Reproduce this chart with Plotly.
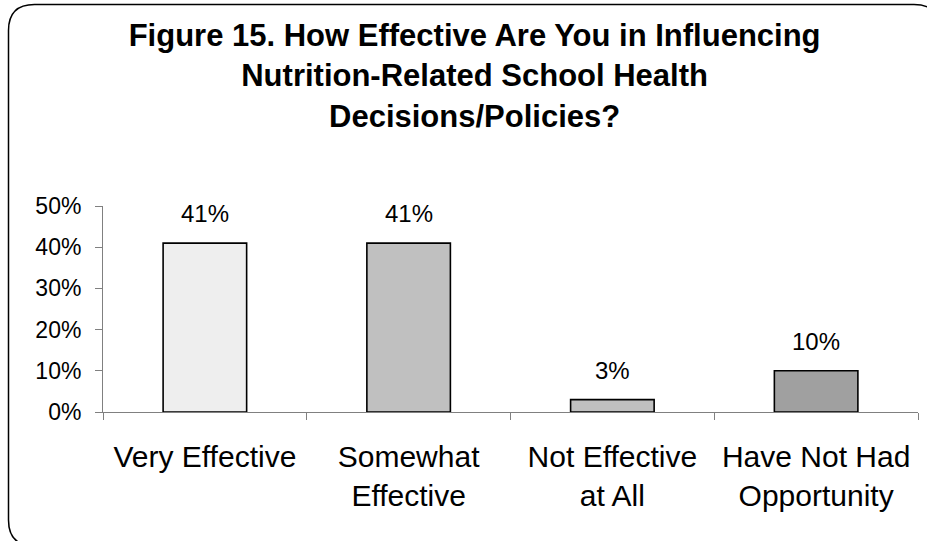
import plotly.graph_objects as go

categories = ["Very Effective", "Somewhat<br>Effective", "Not Effective<br>at All", "Have Not Had<br>Opportunity"]
values = [41, 41, 3, 10]
value_labels = ["41%", "41%", "3%", "10%"]
bar_colors = ["#eeeeee", "#c0c0c0", "#c0c0c0", "#a0a0a0"]
y_tick_vals = [0, 10, 20, 30, 40, 50]
y_tick_text = ["0%", "10%", "20%", "30%", "40%", "50%"]
title_text = ("Figure 15. How Effective Are You in Influencing<br>"
              "Nutrition-Related School Health<br>Decisions/Policies?")

W, H = 927, 541
ML, MR, MT, MB = 103, 9, 206, 129
FONT = "Liberation Sans, Arial, sans-serif"

fig = go.Figure()
fig.add_trace(go.Bar(
    x=categories, y=values, width=0.41,
    marker=dict(color=bar_colors, line=dict(color="black", width=1.6)),
    hoverinfo="skip",
))

annotations = []
for c, v, t in zip(categories, values, value_labels):
    annotations.append(dict(x=c, y=v, xref="x", yref="y", text=t, showarrow=False,
                            yanchor="bottom", yshift=14,
                            font=dict(family=FONT, size=24, color="black")))

# rounded border (pixel -> paper conversion)
pw, ph = W - ML - MR, H - MT - MB
def px(x):
    return (x - ML) / pw
def py(y):
    return (H - MB - y) / ph

L, T, R, B, r = 8.5, 4.5, 940, 546, 26
path = (f"M {px(L+r)},{py(T)} L {px(R-r)},{py(T)} Q {px(R)},{py(T)} {px(R)},{py(T+r)} "
        f"L {px(R)},{py(B-r)} Q {px(R)},{py(B)} {px(R-r)},{py(B)} "
        f"L {px(L+r)},{py(B)} Q {px(L)},{py(B)} {px(L)},{py(B-r)} "
        f"L {px(L)},{py(T+r)} Q {px(L)},{py(T)} {px(L+r)},{py(T)} Z")

fig.update_layout(
    width=W, height=H, autosize=False,
    margin=dict(l=ML, r=MR, t=MT, b=MB, pad=0),
    paper_bgcolor="white", plot_bgcolor="white",
    showlegend=False,
    font=dict(family=FONT, color="black"),
    title=dict(text=title_text, x=0.512, xref="container", xanchor="center",
               y=1 - 46 / H, yref="container", yanchor="top",
               font=dict(family=FONT, size=31, color="black", weight="bold")),
    xaxis=dict(type="category", range=[-0.5, 3.5], showline=True, linecolor="#808080",
               linewidth=1, ticks="outside", tickson="boundaries", ticklen=7,
               tickcolor="#808080", tickwidth=1, showgrid=False, zeroline=False,
               tickfont=dict(family=FONT, size=30, color="black"), ticklabelstandoff=18),
    yaxis=dict(range=[0, 50], tickvals=y_tick_vals, ticktext=y_tick_text, showline=True,
               linecolor="#808080", linewidth=1, ticks="outside", ticklen=7,
               tickcolor="#808080", tickwidth=1, showgrid=False, zeroline=False,
               tickfont=dict(family=FONT, size=23, color="black"), ticklabelstandoff=9),
    annotations=annotations,
    shapes=[dict(type="path", xref="paper", yref="paper", path=path,
                 line=dict(color="black", width=1.5), layer="above")],
)

fig.write_html("out.html")
